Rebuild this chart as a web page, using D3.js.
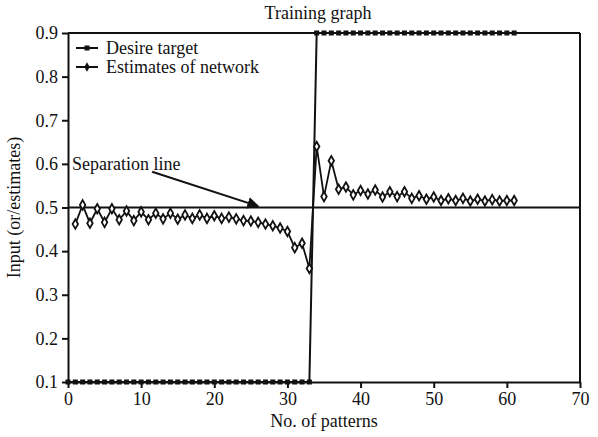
<!DOCTYPE html>
<html>
<head>
<meta charset="utf-8">
<script src="https://cdn.jsdelivr.net/npm/d3@7"></script>
<style>
  body { margin: 0; background: #fff; }
  svg text { font-family: "Liberation Serif", "DejaVu Serif", serif; fill: #111; }
  .axis path, .axis line { stroke: #111; stroke-width: 2px; }
</style>
</head>
<body>
<div class="graph"></div>
<script>
// values
let targetX = d3.range(0, 62);
let targetY = targetX.map(x => x <= 33 ? 0.1 : 0.9);

let estX = d3.range(1, 62);
let estY = [
  0.462, 0.506, 0.464, 0.497, 0.466, 0.497, 0.472, 0.492, 0.470, 0.490,
  0.472, 0.487, 0.474, 0.487, 0.473, 0.483, 0.475, 0.483, 0.475, 0.481,
  0.475, 0.478, 0.474, 0.470, 0.469, 0.466, 0.462, 0.458, 0.453, 0.445,
  0.408, 0.418, 0.360,
  0.640, 0.525, 0.607, 0.542, 0.547, 0.529, 0.539, 0.531, 0.540, 0.524,
  0.536, 0.525, 0.536, 0.521, 0.527, 0.519, 0.524, 0.516, 0.520, 0.516,
  0.521, 0.515, 0.519, 0.515, 0.518, 0.515, 0.516, 0.516
];

let xTicks = [0, 10, 20, 30, 40, 50, 60, 70];
let yTicks = [0.1, 0.2, 0.3, 0.4, 0.5, 0.6, 0.7, 0.8, 0.9];
let separation = 0.5;

let fs = "18px";

let margin = {top: 33, right: 18, bottom: 55, left: 68},
    width = 598 - margin.left - margin.right,
    height = 437 - margin.top - margin.bottom;

let svg = d3.select(".graph").append("svg")
    .attr("width", 598)
    .attr("height", 437);

let g = svg.append("g")
    .attr("transform", "translate(" + margin.left + "," + margin.top + ")");

let x = d3.scaleLinear().domain([0, 70]).range([0, width]);
let y = d3.scaleLinear().domain([0.1, 0.9]).range([height, 0]);

// axes
g.append("g")
    .attr("class", "axis")
    .attr("transform", "translate(0," + height + ")")
    .call(d3.axisBottom(x).tickValues(xTicks).tickSize(6).tickSizeOuter(0))
    .selectAll("text").style("font-size", fs).attr("dy", "0.8em");

g.append("g")
    .attr("class", "axis")
    .call(d3.axisLeft(y).tickValues(yTicks).tickFormat(d3.format(".1f")).tickSize(6).tickSizeOuter(0))
    .selectAll("text").style("font-size", fs).attr("dx", "-0.05em");

// frame top and right
g.append("line").attr("x1", 0).attr("x2", width).attr("y1", 0).attr("y2", 0)
    .attr("stroke", "#111").attr("stroke-width", 2);
g.append("line").attr("x1", width).attr("x2", width).attr("y1", 0).attr("y2", height)
    .attr("stroke", "#111").attr("stroke-width", 2);

// separation line
g.append("line")
    .attr("x1", x(0)).attr("x2", x(70))
    .attr("y1", y(separation)).attr("y2", y(separation))
    .attr("stroke", "#111").attr("stroke-width", 2);

// target series
let target = targetX.map((d, i) => [d, targetY[i]]);
g.append("path")
    .datum(target)
    .attr("fill", "none").attr("stroke", "#111").attr("stroke-width", 2)
    .attr("d", d3.line().x(d => x(d[0])).y(d => y(d[1])));
g.selectAll(".sq")
    .data(target)
    .enter().append("rect")
    .attr("class", "sq")
    .attr("x", d => x(d[0]) - 2.5).attr("y", d => y(d[1]) - 2.5)
    .attr("width", 5).attr("height", 5)
    .attr("fill", "#111");

// estimates series
let est = estX.map((d, i) => [d, estY[i]]);
g.append("path")
    .datum(est)
    .attr("fill", "none").attr("stroke", "#111").attr("stroke-width", 1.8)
    .attr("d", d3.line().x(d => x(d[0])).y(d => y(d[1])));
let diamond = d3.symbol().type(d3.symbolDiamond).size(26);
g.selectAll(".dm")
    .data(est)
    .enter().append("path")
    .attr("class", "dm")
    .attr("transform", d => "translate(" + x(d[0]) + "," + y(d[1]) + ")")
    .attr("d", diamond)
    .attr("fill", "#fff").attr("stroke", "#111").attr("stroke-width", 1.8);

// legend
let legend = g.append("g").attr("transform", "translate(8,15)");
legend.append("line").attr("x1", 0).attr("x2", 22).attr("y1", 0).attr("y2", 0)
    .attr("stroke", "#111").attr("stroke-width", 2);
legend.append("rect").attr("x", 8.5).attr("y", -2.5).attr("width", 5).attr("height", 5).attr("fill", "#111");
legend.append("text").attr("x", 30).attr("y", 6).style("font-size", fs).text("Desire target");
legend.append("line").attr("x1", 0).attr("x2", 22).attr("y1", 19).attr("y2", 19)
    .attr("stroke", "#111").attr("stroke-width", 2);
legend.append("path").attr("transform", "translate(11,19)").attr("d", diamond).attr("fill", "#111");
legend.append("text").attr("x", 30).attr("y", 25).style("font-size", fs).text("Estimates of network");

// annotation arrow
svg.append("defs").append("marker")
    .attr("id", "arrow").attr("viewBox", "0 0 10 10")
    .attr("refX", 9).attr("refY", 5)
    .attr("markerWidth", 6).attr("markerHeight", 6)
    .attr("orient", "auto")
    .append("path").attr("d", "M0,0 L10,5 L0,10 z").attr("fill", "#111");
g.append("line")
    .attr("x1", x(11.5)).attr("y1", y(0.582))
    .attr("x2", x(26)).attr("y2", y(0.503))
    .attr("stroke", "#111").attr("stroke-width", 2)
    .attr("marker-end", "url(#arrow)");
g.append("text")
    .attr("x", x(0) + 4).attr("y", y(0.6) + 6)
    .style("font-size", fs)
    .text("Separation line");

// titles
svg.append("text")
    .attr("x", 318).attr("y", 19)
    .attr("text-anchor", "middle").style("font-size", fs)
    .text("Training graph");
svg.append("text")
    .attr("x", margin.left + width / 2).attr("y", 427)
    .attr("text-anchor", "middle").style("font-size", fs)
    .text("No. of patterns");
svg.append("text")
    .attr("transform", "translate(20," + (margin.top + height / 2) + ") rotate(-90)")
    .attr("text-anchor", "middle").style("font-size", fs)
    .text("Input (or/estimates)");
</script>
</body>
</html>
